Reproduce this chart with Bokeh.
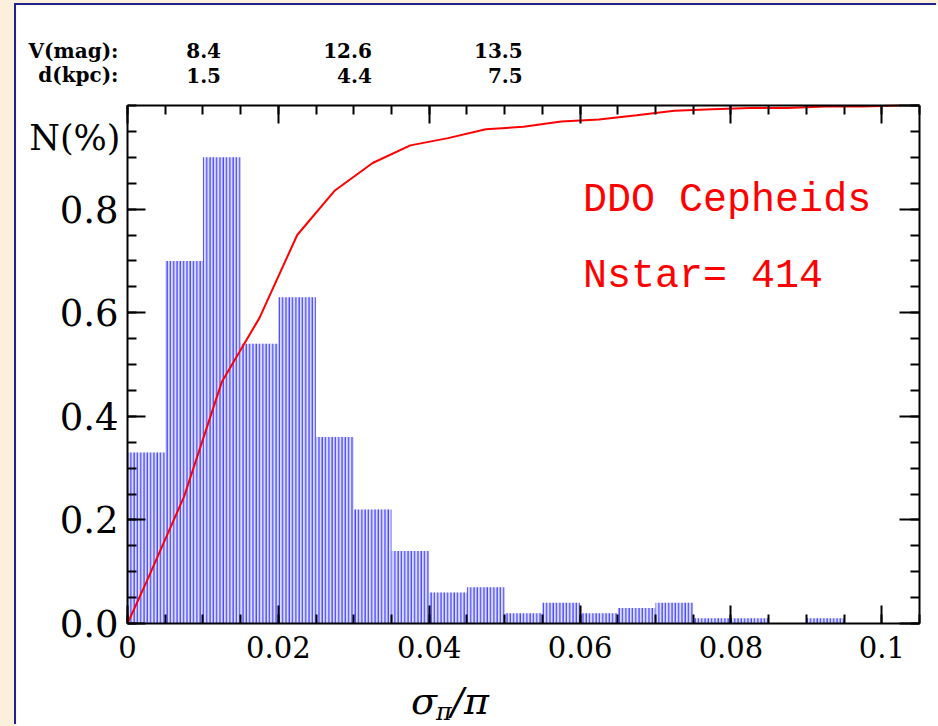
from bokeh.plotting import figure
from bokeh.models import LinearAxis, FixedTicker, Label, Range1d, PrintfTickFormatter
from bokeh.embed import file_html
from bokeh.resources import INLINE

# ---------------- data ----------------
bin_left = [0.000, 0.005, 0.010, 0.015, 0.020, 0.025, 0.030, 0.035, 0.040, 0.045,
            0.050, 0.055, 0.060, 0.065, 0.070, 0.075, 0.080, 0.085, 0.090, 0.095]
bin_right = [0.005, 0.010, 0.015, 0.020, 0.025, 0.030, 0.035, 0.040, 0.045, 0.050,
             0.055, 0.060, 0.065, 0.070, 0.075, 0.080, 0.085, 0.090, 0.095, 0.100]
frac = [0.33, 0.70, 0.90, 0.54, 0.63, 0.36, 0.22, 0.14, 0.06, 0.07,
        0.02, 0.04, 0.02, 0.03, 0.04, 0.01, 0.01, 0.00, 0.01, 0.00]

cum_x = [0.0, 0.0025, 0.0075, 0.0125, 0.0175, 0.0225, 0.0275, 0.0325, 0.0375, 0.0425,
         0.0475, 0.0525, 0.0575, 0.0625, 0.0675, 0.0725, 0.0775, 0.0825, 0.0875, 0.0925,
         0.0975, 0.1025]
cum_y = [0.0, 0.08, 0.245, 0.466, 0.59, 0.75, 0.836, 0.889, 0.923, 0.937,
         0.954, 0.959, 0.969, 0.973, 0.981, 0.990, 0.993, 0.995, 0.995, 0.998,
         0.998, 1.0]

x_ticks = [0.0, 0.02, 0.04, 0.06, 0.08, 0.1]
x_tick_labels = ["0", "0.02", "0.04", "0.06", "0.08", "0.1"]
y_ticks = [0.0, 0.2, 0.4, 0.6, 0.8]
y_major_all = [0.0, 0.2, 0.4, 0.6, 0.8, 1.0]

header_pos = [0.0124, 0.0324, 0.0524]
v_mag = ["8.4", "12.6", "13.5"]
d_kpc = ["1.5", "4.4", "7.5"]

x_minor = [round(0.005 * i, 4) for i in range(22)]
y_minor = [round(0.05 * i, 3) for i in range(21)]

X_MAX = 0.105
Y_MAX = 1.0
SERIF = "DejaVu Serif"

# ---------------- figure ----------------
# The frame spans the whole canvas; the data box is drawn by four axes at fixed locations.
p = figure(width=922, height=721,
           x_range=Range1d(-0.014716, 0.107519), y_range=Range1d(-0.19884, 1.19305),
           output_backend="svg", toolbar_location=None,
           min_border_left=0, min_border_right=0, min_border_top=0, min_border_bottom=0,
           background_fill_color="white", border_fill_color="white",
           outline_line_color=None)
p.grid.visible = False
p.styles = {"box-shadow": "-2px -2px 0 0 #22228C"}


def base_style(ax, show_line=True):
    ax.major_tick_in = 18
    ax.major_tick_out = 0
    ax.minor_tick_in = 9
    ax.minor_tick_out = 0
    ax.major_tick_line_width = 2
    ax.minor_tick_line_width = 2
    ax.major_tick_line_color = "black"
    ax.minor_tick_line_color = "black"
    ax.axis_line_width = 2
    ax.axis_line_color = "black" if show_line else None
    ax.major_label_text_font = SERIF
    ax.major_label_text_color = "black"


xb = p.below[0]
yl = p.left[0]
base_style(xb)
base_style(yl)
xb.ticker = FixedTicker(ticks=x_ticks, minor_ticks=x_minor)
xb.fixed_location = 0.0
xb.bounds = (0.0, X_MAX)
xb.major_label_overrides = {t: s for t, s in zip(x_ticks, x_tick_labels)}
xb.major_label_text_font_size = "29px"
xb.major_label_standoff = 12

yl.ticker = FixedTicker(ticks=y_ticks, minor_ticks=y_minor)
yl.fixed_location = 0.0
yl.bounds = (0.0, Y_MAX)
yl.formatter = PrintfTickFormatter(format="%.1f")
yl.major_label_text_font_size = "37px"
yl.major_label_standoff = 9

# top side: short ticks + long ticks (no labels)
for minor_list, length, line in ((x_minor, 9, True), (x_ticks, 18, False)):
    ax = LinearAxis()
    base_style(ax, line)
    ax.ticker = FixedTicker(ticks=[], minor_ticks=minor_list)
    ax.minor_tick_in = length
    ax.fixed_location = Y_MAX
    ax.bounds = (0.0, X_MAX)
    p.add_layout(ax, "above")

# right side: short ticks + long ticks (no labels)
for minor_list, length, line in ((y_minor, 9, True), (y_major_all, 20, False)):
    ax = LinearAxis()
    base_style(ax, line)
    ax.ticker = FixedTicker(ticks=[], minor_ticks=minor_list)
    ax.minor_tick_in = length
    ax.fixed_location = X_MAX
    ax.bounds = (0.0, Y_MAX)
    p.add_layout(ax, "right")

# histogram bars (vertical hatching)
p.quad(left=bin_left, right=bin_right, bottom=0, top=frac,
       fill_color="#dcdcff", fill_alpha=1.0, line_color=None,
       hatch_pattern="vertical_line", hatch_color="#4a4aff",
       hatch_scale=3.3, hatch_weight=1.3)

# cumulative curve
p.line(cum_x, cum_y, line_color="#ff0000", line_width=2)

# ---------------- annotations ----------------
p.add_layout(Label(x=0, y=0.938, x_offset=-7, text="N(%)", text_align="right",
                   text_baseline="alphabetic", text_font=SERIF, text_font_size="35px",
                   text_color="black"))

hdr_kw = dict(text_baseline="alphabetic", text_font=SERIF, text_font_size="20px",
              text_font_style="bold", text_color="black")
p.add_layout(Label(x=0, y=1.106, x_offset=-9, text="V(mag):", text_align="right", **hdr_kw))
p.add_layout(Label(x=0, y=1.058, x_offset=-9, text="d(kpc):", text_align="right", **hdr_kw))
for xp, vm, dk in zip(header_pos, v_mag, d_kpc):
    p.add_layout(Label(x=xp, y=1.106, text=vm, text_align="right", **hdr_kw))
    p.add_layout(Label(x=xp, y=1.058, text=dk, text_align="right", **hdr_kw))

mono_kw = dict(text_baseline="alphabetic", text_font="Liberation Mono",
               text_font_size="40px", text_color="#ff0000", text_align="left")
p.add_layout(Label(x=0.0604, y=0.817, text="DDO Cepheids", **mono_kw))
p.add_layout(Label(x=0.0604, y=0.669, text="Nstar= 414", **mono_kw))

# x axis title: sigma_pi / pi
title_kw = dict(text_font=SERIF, text_font_style="italic", text_color="black",
                text_baseline="alphabetic", text_align="left")
p.add_layout(Label(x=0.0376, y=-0.149, text="σ", text_font_size="38px", **title_kw))
p.add_layout(Label(x=0.0409, y=-0.170, text="π", text_font_size="24px", **title_kw))
p.add_layout(Label(x=0.0429, y=-0.149, text="/π", text_font_size="38px", **title_kw))

html = file_html(p, INLINE)
html = html.replace("</head>",
                    "<style>html,body{margin:0;padding:0;background:#FAF0DC;}"
                    "body{padding:5px 0 0 16px;}</style></head>", 1)
open("out.html", "w").write(html)
